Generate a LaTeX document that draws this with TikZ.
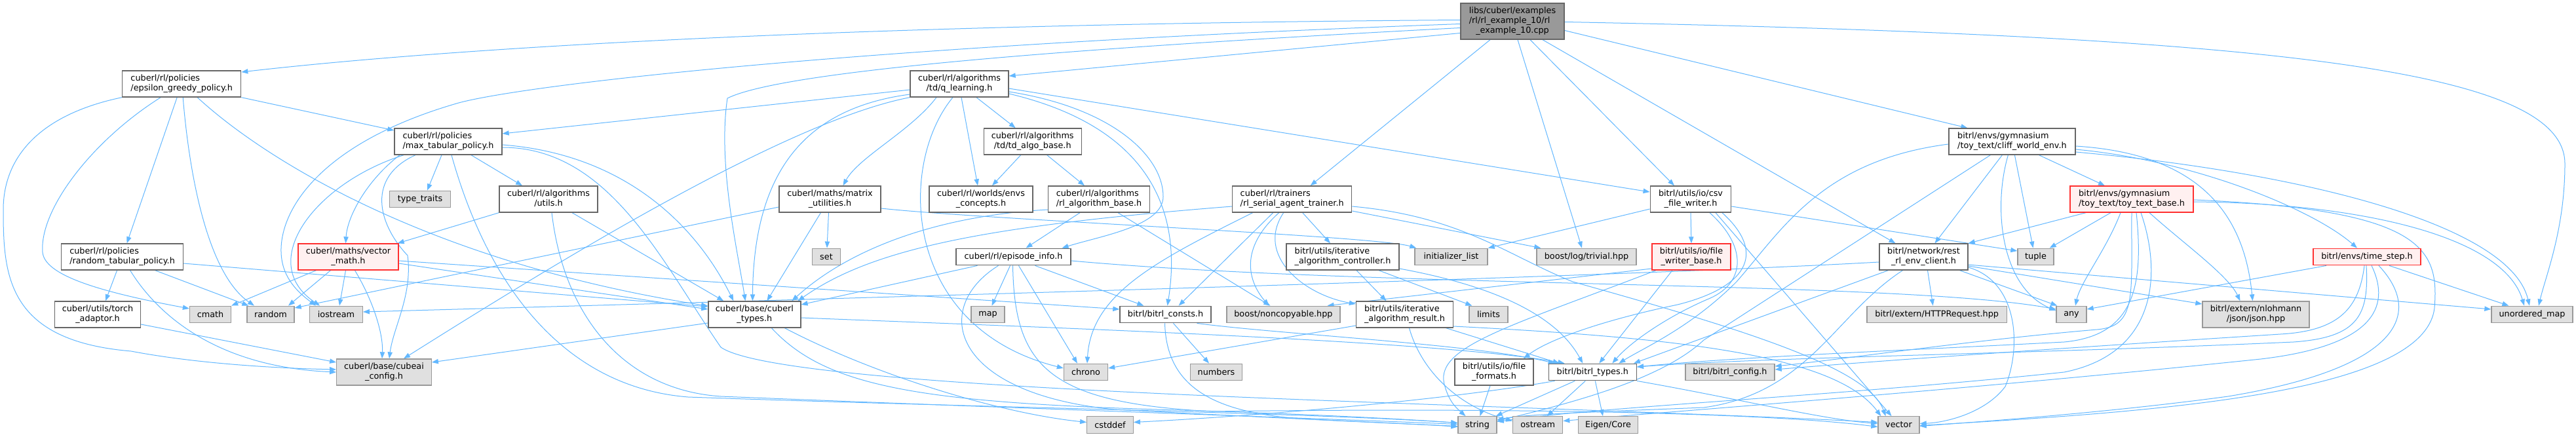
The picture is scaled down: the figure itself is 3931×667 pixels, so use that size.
\documentclass[tikz,border=0pt]{standalone}
\usepackage{fontspec}
\setmainfont{DejaVu Sans}
\usetikzlibrary{arrows.meta,calc}
\definecolor{edgec}{HTML}{63B8FF}
\definecolor{sysfill}{HTML}{E0E0E0}
\definecolor{sysdraw}{HTML}{999999}
\definecolor{docdraw}{HTML}{666666}
\definecolor{redfill}{HTML}{FFF0F0}
\definecolor{reddraw}{HTML}{FF3030}
\definecolor{rootfill}{HTML}{999999}
\newcommand\dtwo[2]{\begin{tabular}{@{}l@{}}#1\\\multicolumn{1}{@{}c@{}}{#2}\end{tabular}}
\newcommand\dthree[3]{\begin{tabular}{@{}l@{}}#1\\#2\\\multicolumn{1}{@{}c@{}}{#3}\end{tabular}}
\pgfdeclarelayer{bg}
\pgfsetlayers{bg,main}
\tikzset{
 base/.style={rectangle, inner sep=0pt, font=\fontsize{9.6}{11.2}\selectfont, text=black, line width=1pt},
 doc/.style={base, draw=docdraw, fill=white},
 sys/.style={base, draw=sysdraw, fill=sysfill},
 redn/.style={base, draw=reddraw, fill=redfill},
 root/.style={base, draw=docdraw, fill=rootfill},
 sz/.style 2 args={minimum width=#1*0.75pt, minimum height=#2*0.75pt},
 edg/.style={draw=edgec, line width=0.75pt, -{Triangle[length=7.5pt,width=5.5pt]}},
}
\begin{document}
\begin{tikzpicture}[x=0.75pt,y=-0.75pt]
\useasboundingbox (0,0) rectangle (3931,667);
% nodes
\node[root, sz={158}{55}] (T) at (2308,32.5) {\dthree{libs/cuberl/examples}{/rl/rl\_example\_10/rl}{\_example\_10.cpp}};
\node[doc, sz={181}{40}] (EG) at (277.2,128) {\dtwo{cuberl/rl/policies}{/epsilon\_greedy\_policy.h}};
\node[doc, sz={150}{40}] (QL) at (1464,128) {\dtwo{cuberl/rl/algorithms}{/td/q\_learning.h}};
\node[doc, sz={164}{40}] (MT) at (684,216) {\dtwo{cuberl/rl/policies}{/max\_tabular\_policy.h}};
\node[doc, sz={149}{40}] (TD) at (1575.7,216) {\dtwo{cuberl/rl/algorithms}{/td/td\_algo\_base.h}};
\node[doc, sz={193}{40}] (CW) at (3070.4,216) {\dtwo{bitrl/envs/gymnasium}{/toy\_text/cliff\_world\_env.h}};
\node[sys, sz={92.5}{25.5}] (TT) at (641,304) {type\_traits};
\node[doc, sz={150}{40}] (AU) at (837,304) {\dtwo{cuberl/rl/algorithms}{/utils.h}};
\node[doc, sz={155}{40}] (MU) at (1266.5,304) {\dtwo{cuberl/maths/matrix}{\_utilities.h}};
\node[doc, sz={158}{40}] (EC) at (1497,304) {\dtwo{cuberl/rl/worlds/envs}{\_concepts.h}};
\node[doc, sz={155}{40}] (RB) at (1677,304) {\dtwo{cuberl/rl/algorithms}{/rl\_algorithm\_base.h}};
\node[doc, sz={182}{40}] (TR) at (1971.7,304) {\dtwo{cuberl/rl/trainers}{/rl\_serial\_agent\_trainer.h}};
\node[doc, sz={123.5}{40}] (CSV) at (2580,304) {\dtwo{bitrl/utils/io/csv}{\_file\_writer.h}};
\node[redn, sz={188}{40}] (TB) at (3253,304) {\dtwo{bitrl/envs/gymnasium}{/toy\_text/toy\_text\_base.h}};
\node[doc, sz={185.7}{40}] (RT) at (186.6,392) {\dtwo{cuberl/rl/policies}{/random\_tabular\_policy.h}};
\node[redn, sz={153}{40}] (VM) at (531.5,392) {\dtwo{cuberl/maths/vector}{\_math.h}};
\node[sys, sz={43.6}{25.5}] (SET) at (1261,392) {set};
\node[doc, sz={175}{25.5}] (EI) at (1546.5,392) {cuberl/rl/episode\_info.h};
\node[doc, sz={172}{40}] (IAC) at (2049,392) {\dtwo{bitrl/utils/iterative}{\_algorithm\_controller.h}};
\node[sys, sz={111}{25.5}] (IL) at (2214.5,392) {initializer\_list};
\node[sys, sz={152}{25.5}] (BLT) at (2421,392) {boost/log/trivial.hpp};
\node[redn, sz={120}{40}] (FWB) at (2581,392) {\dtwo{bitrl/utils/io/file}{\_writer\_base.h}};
\node[doc, sz={135}{40}] (REST) at (2935.5,392) {\dtwo{bitrl/network/rest}{\_rl\_env\_client.h}};
\node[sys, sz={55}{25.5}] (TUP) at (3106.5,392) {tuple};
\node[redn, sz={164}{25.5}] (TS) at (3612,392) {bitrl/envs/time\_step.h};
\node[doc, sz={131}{40}] (TA) at (149,480) {\dtwo{cuberl/utils/torch}{\_adaptor.h}};
\node[sys, sz={63}{25.5}] (CM) at (321,480) {cmath};
\node[sys, sz={72}{25.5}] (RND) at (413,480) {random};
\node[sys, sz={80.6}{25.5}] (IOS) at (513,480) {iostream};
\node[doc, sz={141}{40}] (CT) at (1151.4,480) {\dtwo{cuberl/base/cuberl}{\_types.h}};
\node[sys, sz={51}{25.5}] (MAP) at (1507.5,480) {map};
\node[doc, sz={139}{25.5}] (BC) at (1778.5,480) {bitrl/bitrl\_consts.h};
\node[sys, sz={173}{25.5}] (NC) at (1958.4,480) {boost/noncopyable.hpp};
\node[doc, sz={148}{40}] (IAR) at (2143.5,480) {\dtwo{bitrl/utils/iterative}{\_algorithm\_result.h}};
\node[sys, sz={59}{25.5}] (LIM) at (2271.5,480) {limits};
\node[sys, sz={213.5}{25.5}] (HTTP) at (2955.7,480) {bitrl/extern/HTTPRequest.hpp};
\node[sys, sz={46}{25.5}] (ANY) at (3161,480) {any};
\node[sys, sz={163}{40}] (JSON) at (3442.5,480) {\dtwo{bitrl/extern/nlohmann}{/json/json.hpp}};
\node[sys, sz={124}{25.5}] (UM) at (3864,480) {unordered\_map};
\node[sys, sz={144.5}{40}] (CC) at (586,568) {\dtwo{cuberl/base/cubeai}{\_config.h}};
\node[doc, sz={120}{40}] (FF) at (2280,568) {\dtwo{bitrl/utils/io/file}{\_formats.h}};
\node[sys, sz={67}{25.5}] (CHR) at (1657,568) {chrono};
\node[sys, sz={78.5}{25.5}] (NUM) at (1856,568) {numbers};
\node[doc, sz={134}{25.5}] (BT) at (2430.3,568) {bitrl/bitrl\_types.h};
\node[sys, sz={136}{25.5}] (BCF) at (2640,568) {bitrl/bitrl\_config.h};
\node[sys, sz={70.5}{25.5}] (CST) at (1694,648.5) {cstddef};
\node[sys, sz={59}{25.5}] (STR) at (2254.5,648.5) {string};
\node[sys, sz={76}{25.5}] (OST) at (2346.7,648.5) {ostream};
\node[sys, sz={91.5}{25.5}] (EIG) at (2454,648.5) {Eigen/Core};
\node[sys, sz={63}{25.5}] (VEC) at (2897.5,648.5) {vector};
\begin{pgfonlayer}{bg}
\fill[white] (0,0) rectangle (3931,667);
% root
\draw[edg] ($(T.west)+(0,-2)$) .. controls (1300,37) and (700,72) .. ($(EG.east)+(0,-18)$);
\draw[edg] ($(T.west)+(0,18)$) -- ($(QL.east)+(0,-12)$);
\draw[edg] ($(T.west)+(0,10)$) .. controls (1700,70) and (1200,105) .. (1110,150) .. controls (1095,250) and (1125,380) .. ($(CT.north)+(-14,0)$);
\draw[edg] ($(T.west)+(0,4)$) .. controls (1300,70) and (800,130) .. (700,157) .. controls (480,220) and (420,330) .. (430,396) .. controls (435,430) and (460,450) .. ($(IOS.north)+(-31,0)$);
\draw[edg] ($(T.south)+(-34,0)$) -- ($(TR.north)+(28,0)$);
\draw[edg] ($(T.south)+(8,0)$) -- ($(BLT.north)+(-7,0)$);
\draw[edg] ($(T.south)+(27,0)$) -- ($(CSV.north)+(-25,0)$);
\draw[edg] ($(T.south)+(46,0)$) -- ($(REST.north)+(-43,0)$);
\draw[edg] ($(T.east)+(0,14)$) -- ($(CW.north)+(-68,0)$);
\draw[edg] ($(T.east)+(0,1)$) .. controls (3500,55) and (3914,110) .. (3914,250) .. controls (3914,350) and (3885,420) .. ($(UM.north)+(10,0)$);
% epsilon greedy
\draw[edg] (EG.south west) .. controls (60,175) and (5,240) .. (5,320) .. controls (5,420) and (10,520) .. (200,536) .. controls (300,555) and (420,562) .. ($(CC.west)+(0,-4)$);
\draw[edg] ($(EG.south)+(-32,0)$) .. controls (140,215) and (60,320) .. (65,385) .. controls (68,420) and (150,445) .. ($(CM.west)+(0,-9)$);
\draw[edg] ($(EG.south)+(-7,0)$) -- ($(RT.north)+(7,0)$);
\draw[edg] ($(EG.south)+(2,0)$) .. controls (290,280) and (320,420) .. ($(RND.north)+(-25,0)$);
\draw[edg] ($(EG.south)+(24,0)$) .. controls (400,240) and (650,400) .. ($(CT.west)+(0,-13)$);
\draw[edg] (EG.south east) -- ($(MT.west)+(0,-17)$);
% q learning
\draw[edg] ($(QL.west)+(0,9)$) -- ($(MT.east)+(0,-12)$);
\draw[edg] ($(QL.west)+(0,16)$) .. controls (1230,165) and (1150,260) .. ($(CT.north)+(-3,0)$);
\draw[edg] (QL.south west) .. controls (1200,185) and (850,400) .. ($(CC.north)+(30,0)$);
\draw[edg] ($(QL.south)+(-35,0)$) .. controls (1390,200) and (1310,240) .. ($(MU.north)+(20,0)$);
\draw[edg] ($(QL.south)+(-10,0)$) .. controls (1370,250) and (1375,500) .. ($(CHR.west)+(0,-6)$);
\draw[edg] ($(QL.south)+(3,0)$) -- ($(EC.north)+(-5,0)$);
\draw[edg] ($(QL.south)+(26,0)$) -- ($(TD.north)+(-26,0)$);
\draw[edg] ($(QL.east)+(0,7)$) -- ($(CSV.west)+(0,-11)$);
\draw[edg] ($(QL.east)+(0,12)$) .. controls (1700,165) and (1775,240) .. (1775,300) .. controls (1775,345) and (1680,360) .. ($(EI.north)+(74,0)$);
\draw[edg] ($(QL.east)+(0,15)$) .. controls (1780,200) and (1800,350) .. ($(BC.north)+(3,0)$);
% max tabular
\draw[edg] ($(MT.south)+(-68,0)$) .. controls (480,280) and (390,400) .. ($(IOS.north)+(-25,0)$);
\draw[edg] ($(MT.south)+(-74,0)$) .. controls (560,275) and (530,330) .. ($(VM.north)+(-4,0)$);
\draw[edg] ($(MT.south)+(-50,0)$) .. controls (560,270) and (575,340) .. (622,390) .. controls (630,450) and (600,500) .. ($(CC.north)+(8,0)$);
\draw[edg] ($(MT.south)+(-10,0)$) -- ($(TT.north)+(11,0)$);
\draw[edg] ($(MT.south)+(35,0)$) -- ($(AU.north)+(-40,0)$);
\draw[edg] ($(MT.east)+(0,5)$) .. controls (950,235) and (1060,340) .. ($(CT.north)+(-32,0)$);
\draw[edg] ($(MT.south)+(5,0)$) .. controls (740,420) and (850,590) .. (1050,606) .. controls (1500,622) and (2000,630) .. ($(STR.west)+(0,-3)$);
\draw[edg] ($(MT.east)+(0,9)$) .. controls (930,225) and (1010,400) .. (1100,530) .. controls (1200,600) and (2300,615) .. ($(VEC.west)+(0,-4)$);
% td algo base
\draw[edg] ($(TD.south)+(-18,0)$) -- ($(EC.north)+(17,0)$);
\draw[edg] ($(TD.south)+(22,0)$) -- ($(RB.north)+(-22,0)$);
% cliff world
\draw[edg] ($(CW.south)+(-15,0)$) -- ($(REST.north)+(17,0)$);
\draw[edg] ($(CW.south)+(-6,0)$) .. controls (3040,320) and (3055,440) .. ($(ANY.west)+(0,-6)$);
\draw[edg] ($(CW.south)+(4,0)$) -- ($(TUP.north)+(-4,0)$);
\draw[edg] ($(CW.south)+(41,0)$) -- ($(TB.north)+(-41,0)$);
\draw[edg] ($(CW.east)+(0,7)$) .. controls (3360,235) and (3425,330) .. ($(JSON.north)+(-5,0)$);
\draw[edg] ($(CW.east)+(0,12)$) .. controls (3350,245) and (3530,320) .. ($(TS.north)+(-15,0)$);
\draw[edg] ($(CW.east)+(0,16)$) .. controls (3500,262) and (3830,340) .. ($(UM.north)+(-4,0)$);
\draw[edg] ($(CW.west)+(0,4)$) .. controls (2780,245) and (2720,350) .. (2650,430) .. controls (2580,500) and (2510,530) .. ($(BT.north)+(40,0)$);
\draw[edg] ($(CW.south)+(-33,0)$) -- (2600,519) .. controls (2540,575) and (2420,610) .. ($(STR.east)+(0,-6)$);
% utils
\draw[edg] (AU.south west) -- ($(VM.north east)+(-2,0)$);
\draw[edg] ($(AU.south)+(36,0)$) -- ($(CT.north west)+(24,0)$);
\draw[edg] ($(AU.south)+(5,0)$) .. controls (860,480) and (950,595) .. (1100,605) .. controls (1600,625) and (2000,638) .. ($(STR.west)+(0,-1)$);
% matrix utilities
\draw[edg] ($(MU.west)+(0,12)$) -- ($(RND.east)+(0,-10)$);
\draw[edg] ($(MU.south)+(-14,0)$) -- ($(CT.north)+(19,0)$);
\draw[edg] ($(MU.south)+(-2,0)$) -- ($(SET.north)+(1,0)$);
\draw[edg] ($(MU.east)+(0,14)$) .. controls (1500,335) and (2100,360) .. ($(IL.north west)+(3,0)$);
% vector math
\draw[edg] ($(VM.south)+(-49,0)$) -- (CM.north east);
\draw[edg] ($(VM.south)+(-27,0)$) -- ($(RND.north)+(27,0)$);
\draw[edg] ($(VM.south)+(-4,0)$) -- ($(IOS.north)+(5,0)$);
\draw[edg] ($(VM.south)+(10,0)$) .. controls (570,460) and (585,510) .. ($(CC.north)+(-3,0)$);
\draw[edg] ($(VM.east)+(0,10)$) -- ($(CT.west)+(0,-8)$);
\draw[edg] ($(VM.east)+(0,6)$) -- ($(BC.west)+(0,-8)$);
% random tabular
\draw[edg] ($(RT.east)+(0,10)$) -- ($(CT.west)+(0,-12)$);
\draw[edg] ($(RT.south)+(50,0)$) -- ($(RND.north west)+(3,0)$);
\draw[edg] ($(RT.south)+(-8,0)$) -- ($(TA.north)+(12,0)$);
\draw[edg] ($(RT.south)+(12,0)$) .. controls (240,480) and (330,560) .. (CC.west);
\draw[edg] ($(TA.east)+(0,15)$) -- ($(CC.west)+(0,-15)$);
% cuberl types
\draw[edg] ($(CT.west)+(0,13)$) -- ($(CC.east)+(0,-15)$);
\draw[edg] ($(CT.east)+(0,5)$) .. controls (1600,500) and (2200,520) .. ($(BT.north west)+(25,0)$);
\draw[edg] ($(CT.south)+(26,0)$) .. controls (1260,590) and (1400,615) .. (1800,626) .. controls (2000,632) and (2150,640) .. ($(STR.west)+(0,-3)$);
\draw[edg] ($(CT.south)+(46,0)$) .. controls (1330,570) and (1520,630) .. ($(CST.west)+(0,-4)$);
% rl algorithm base
\draw[edg] ($(RB.west)+(0,16)$) .. controls (1420,330) and (1290,385) .. ($(CT.north)+(57,0)$);
\draw[edg] ($(RB.south)+(-29,0)$) -- ($(EI.north)+(19,0)$);
\draw[edg] ($(RB.south)+(29,0)$) -- ($(NC.north)+(-20,0)$);
% trainer
\draw[edg] ($(TR.west)+(0,11)$) .. controls (1500,345) and (1330,380) .. ($(CT.north east)+(-5,0)$);
\draw[edg] ($(TR.south)+(-60,0)$) .. controls (1760,400) and (1665,450) .. ($(CHR.north)+(2,0)$);
\draw[edg] ($(TR.south)+(-29,0)$) -- ($(BC.north east)+(-50,0)$);
\draw[edg] ($(TR.south)+(-20,0)$) .. controls (1890,380) and (1905,430) .. ($(NC.north)+(-22,0)$);
\draw[edg] ($(TR.south)+(-13,0)$) .. controls (1915,390) and (1990,450) .. ($(IAR.west)+(0,-16)$);
\draw[edg] ($(TR.south)+(16,0)$) -- ($(IAC.north)+(-19,0)$);
\draw[edg] ($(TR.east)+(0,18)$) -- ($(BLT.north west)+(7,0)$);
\draw[edg] ($(TR.east)+(0,11)$) .. controls (2230,330) and (2300,390) .. (2400,430) .. controls (2650,500) and (2850,560) .. ($(VEC.north)+(-20,0)$);
% episode info
\draw[edg] ($(EI.south)+(-55,0)$) -- ($(CT.east)+(0,-15)$);
\draw[edg] ($(EI.south)+(-5,0)$) -- ($(MAP.north)+(6,0)$);
\draw[edg] ($(EI.south)+(8,0)$) -- ($(CHR.north)+(-13,0)$);
\draw[edg] ($(EI.south)+(33,0)$) -- ($(BC.north west)+(37,0)$);
\draw[edg] ($(EI.east)+(0,6)$) .. controls (2100,440) and (2900,428) .. ($(ANY.west)+(0,-8)$);
\draw[edg] ($(EI.south)+(-23,0)$) .. controls (1420,470) and (1450,600) .. (1700,625) .. controls (1950,638) and (2100,645) .. ($(STR.west)+(0,2)$);
\draw[edg] ($(EI.south)+(-1,0)$) .. controls (1548,560) and (1600,615) .. (1850,628) .. controls (2300,622) and (2700,630) .. ($(VEC.west)+(0,3)$);
% iterative algorithm controller / result
\draw[edg] ($(IAC.south)+(21,0)$) -- ($(IAR.north)+(-28,0)$);
\draw[edg] ($(IAC.south)+(55,0)$) -- ($(LIM.north west)+(5,0)$);
\draw[edg] ($(IAC.east)+(0,18)$) .. controls (2300,440) and (2380,490) .. ($(BT.north)+(-15,0)$);
\draw[edg] ($(IAR.west)+(0,17)$) -- ($(CHR.east)+(0,-6)$);
\draw[edg] ($(IAR.south)+(7,0)$) .. controls (2170,570) and (2230,622) .. ($(OST.west)+(0,-6)$);
\draw[edg] ($(IAR.south)+(63,0)$) -- ($(BT.north west)+(17,0)$);
\draw[edg] ($(IAR.east)+(0,18)$) .. controls (2550,515) and (2800,540) .. ($(VEC.north west)+(5,0)$);
% file writer base
\draw[edg] ($(FWB.west)+(0,18)$) -- ($(NC.north east)+(-20,0)$);
\draw[edg] ($(FWB.south)+(-54,0)$) .. controls (2300,500) and (2185,530) .. (2205,590) .. controls (2212,615) and (2225,625) .. ($(STR.north)+(-18,0)$);
\draw[edg] ($(FWB.south)+(-29,0)$) -- ($(BT.north)+(10,0)$);
% csv file writer
\draw[edg] ($(CSV.west)+(0,15)$) -- (IL.north east);
\draw[edg] (CSV.south) -- (FWB.north);
\draw[edg] ($(CSV.east)+(0,11)$) -- ($(TUP.west)+(0,-9)$);
\draw[edg] ($(CSV.south)+(38,0)$) -- ($(VEC.north)+(-11,0)$);
\draw[edg] ($(CSV.south)+(29,0)$) .. controls (2665,375) and (2665,430) .. (2610,455) .. controls (2550,480) and (2490,520) .. ($(BT.north)+(30,0)$);
\draw[edg] ($(CSV.south)+(48,0)$) .. controls (2700,390) and (2660,440) .. (2560,465) .. controls (2440,490) and (2360,520) .. ($(FF.north)+(45,0)$);
% rest client
\draw[edg] ($(REST.west)+(0,8)$) .. controls (2600,415) and (2000,436) .. ($(IOS.east)+(0,-4)$);
\draw[edg] ($(REST.south)+(-54,0)$) -- ($(BT.north east)+(-5,0)$);
\draw[edg] ($(REST.south)+(-32,0)$) .. controls (2800,480) and (2760,600) .. (2600,622) .. controls (2450,628) and (2330,632) .. ($(STR.east)+(0,-8)$);
\draw[edg] ($(REST.south)+(6,0)$) -- ($(HTTP.north)+(-6,0)$);
\draw[edg] ($(REST.south)+(55,0)$) -- ($(ANY.north west)+(2,0)$);
\draw[edg] ($(REST.east)+(0,12)$) -- ($(UM.west)+(0,-8)$);
\draw[edg] ($(REST.east)+(0,14)$) -- ($(JSON.west)+(0,-16)$);
\draw[edg] ($(REST.east)+(0,16)$) .. controls (3080,430) and (3085,530) .. (3060,590) .. controls (3030,630) and (2970,645) .. ($(VEC.east)+(0,-2)$);
% toy text base
\draw[edg] ($(TB.south)+(-70,0)$) -- (REST.north east);
\draw[edg] ($(TB.south)+(-32,0)$) -- ($(TUP.north east)+(-7,0)$);
\draw[edg] ($(TB.south)+(-17,0)$) .. controls (3215,380) and (3175,430) .. ($(ANY.north)+(6,0)$);
\draw[edg] (TB.south) .. controls (3252,450) and (3262,498) .. (3200,503) .. controls (3000,520) and (2800,550) .. ($(BCF.east)+(0,-9)$);
\draw[edg] ($(TB.south)+(7,0)$) .. controls (3272,440) and (3255,512) .. (3150,522) .. controls (2900,535) and (2650,545) .. ($(BT.east)+(0,-8)$);
\draw[edg] ($(TB.south)+(14,0)$) .. controls (3300,420) and (3290,540) .. (3150,568) .. controls (2800,605) and (2450,620) .. ($(STR.east)+(0,-5)$);
\draw[edg] ($(TB.south)+(27,0)$) .. controls (3330,370) and (3400,420) .. ($(JSON.north)+(-24,0)$);
\draw[edg] ($(TB.east)+(0,4)$) .. controls (3600,310) and (3820,360) .. ($(UM.north)+(-12,0)$);
\draw[edg] ($(TB.east)+(0,1)$) .. controls (3700,320) and (3722,380) .. (3715,470) .. controls (3700,600) and (3300,628) .. ($(VEC.east)+(0,1)$);
% time step
\draw[edg] ($(TS.south)+(-62,0)$) -- ($(ANY.east)+(0,-8)$);
\draw[edg] ($(TS.south)+(34,0)$) -- ($(UM.north west)+(27,0)$);
\draw[edg] ($(TS.south)+(-4,0)$) .. controls (3600,470) and (3570,505) .. (3480,510) .. controls (3200,528) and (2900,548) .. ($(BCF.east)+(0,-4)$);
\draw[edg] ($(TS.south)+(-1,0)$) .. controls (3615,480) and (3600,515) .. (3500,522) .. controls (3100,540) and (2700,545) .. ($(BT.east)+(0,-8)$);
\draw[edg] ($(TS.south)+(7,0)$) .. controls (3650,470) and (3620,528) .. (3450,548) .. controls (3000,595) and (2550,628) .. ($(OST.east)+(0,-6)$);
\draw[edg] ($(TS.south)+(18,0)$) .. controls (3700,480) and (3660,562) .. (3400,605) .. controls (3200,632) and (3000,645) .. ($(VEC.east)+(0,2)$);
% bitrl types
\draw[edg] ($(BT.south west)+(10,0)$) .. controls (2200,612) and (1900,636) .. ($(CST.east)+(0,-4)$);
\draw[edg] ($(BT.south)+(-27,0)$) -- ($(STR.north east)+(-2,0)$);
\draw[edg] ($(BT.south)+(-11,0)$) -- ($(OST.north)+(14,0)$);
\draw[edg] ($(BT.south)+(4,0)$) -- ($(EIG.north)+(-8,0)$);
\draw[edg] (BT.south east) .. controls (2650,608) and (2780,640) .. ($(VEC.west)+(0,-2)$);
% file formats, consts
\draw[edg] ($(FF.south)+(-6,0)$) -- ($(STR.north)+(4,0)$);
\draw[edg] ($(BC.south)+(12,0)$) -- ($(NUM.north)+(-11,0)$);
\draw[edg] ($(BC.south)+(-1,0)$) .. controls (1780,590) and (1850,632) .. (2000,640) .. controls (2100,645) and (2180,648) .. ($(STR.west)+(0,3)$);
\draw[edg] ($(BC.south)+(48,0)$) .. controls (1950,510) and (2250,525) .. ($(BT.north west)+(10,0)$);
\end{pgfonlayer}
\end{tikzpicture}
\end{document}
